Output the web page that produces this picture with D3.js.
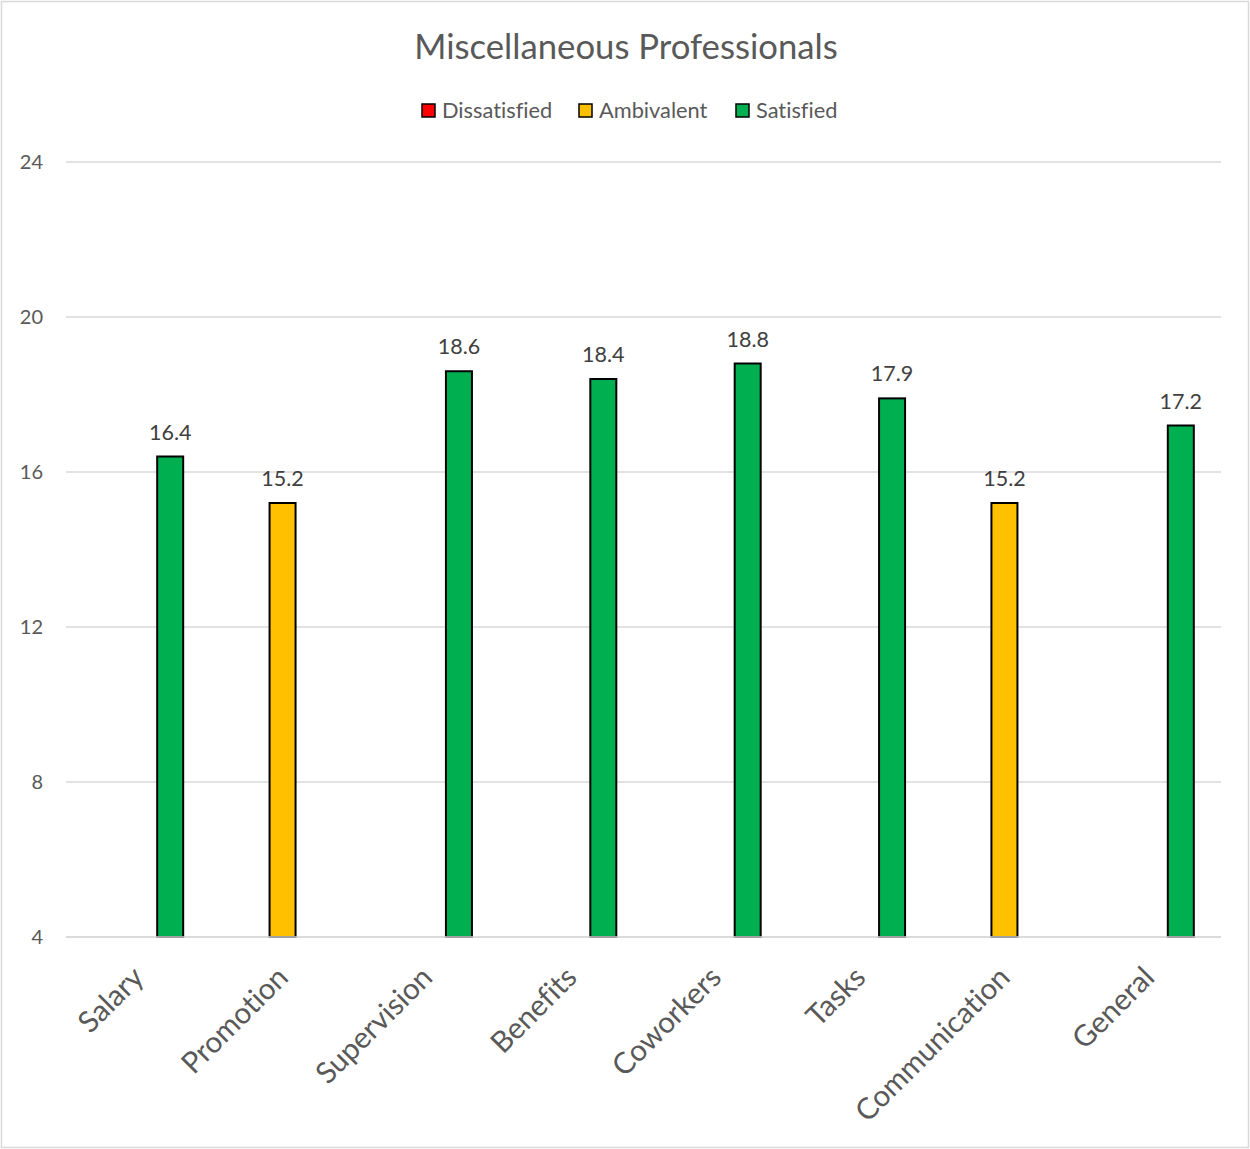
<!DOCTYPE html>
<html>
<head>
<meta charset="utf-8">
<script src="https://cdn.jsdelivr.net/npm/d3@7"></script>
<style>
  html, body { margin: 0; padding: 0; background: #fff; }
  svg { display: block; font-family: Lato, "Open Sans", sans-serif; font-variant-ligatures: none; }
</style>
</head>
<body>
<svg id="chart" width="1250" height="1149"></svg>
<script>
// Job satisfaction scores by facet
const categories = ["Salary", "Promotion", "Supervision", "Benefits", "Coworkers", "Tasks", "Communication", "General"];
const seriesNames = ["Dissatisfied", "Ambivalent", "Satisfied"];
const seriesColors = ["#ff0000", "#ffc000", "#00b050"];
const dissatisfied = [null, null, null, null, null, null, null, null];
const ambivalent   = [null, 15.2, null, null, null, null, 15.2, null];
const satisfied    = [16.4, null, 18.6, 18.4, 18.8, 17.9, null, 17.2];
const yTicks = [4, 8, 12, 16, 20, 24];
const title = "Miscellaneous Professionals";

const seriesValues = [dissatisfied, ambivalent, satisfied];

const svg = d3.select("#chart");
const W = 1250, H = 1149;
const margin = { left: 66, right: 29, top: 162, bottom: 212 };
const plotW = W - margin.left - margin.right;
const plotH = H - margin.top - margin.bottom;

// chart border
svg.append("rect")
  .attr("x", 1.5).attr("y", 1.5)
  .attr("width", W - 3).attr("height", H - 3)
  .attr("fill", "#fff").attr("stroke", "#d9d9d9").attr("stroke-width", 1.5);

const g = svg.append("g").attr("transform", `translate(${margin.left},${margin.top})`);

const x0 = d3.scaleBand().domain(categories).range([0, plotW]).padding(0);
const clusterW = 96;
const x1 = d3.scaleBand().domain(seriesNames).range([-clusterW / 2, clusterW / 2])
  .paddingInner(0.1875).paddingOuter(0.09375);
const y = d3.scaleLinear().domain([4, 24]).range([plotH, 0]);

// gridlines
g.append("g").selectAll("line").data(yTicks).join("line")
  .attr("x1", 0).attr("x2", plotW)
  .attr("y1", d => y(d)).attr("y2", d => y(d))
  .attr("stroke", "#d9d9d9").attr("stroke-width", 1.5);

// y axis tick labels
const yAxis = d3.axisLeft(y).tickValues(yTicks).tickSize(0).tickPadding(23);
const ya = g.append("g").call(yAxis);
ya.select(".domain").remove();
ya.selectAll("text").attr("fill", "#595959").style("font-size", "20px")
  .style("font-family", "Lato, 'Open Sans', sans-serif");

// bars
const barData = [];
categories.forEach((c, i) => {
  seriesNames.forEach((s, j) => {
    const v = seriesValues[j][i];
    if (v != null) barData.push({ cat: c, series: s, color: seriesColors[j], value: v });
  });
});

const cx = c => x0(c) + x0.bandwidth() / 2;

g.append("g").selectAll("rect").data(barData).join("rect")
  .attr("x", d => cx(d.cat) + x1(d.series))
  .attr("width", x1.bandwidth())
  .attr("y", d => y(d.value))
  .attr("height", d => y(4) - y(d.value))
  .attr("fill", d => d.color)
  .attr("stroke", "#000").attr("stroke-width", 2);

// x axis line
g.append("line").attr("x1", 0).attr("x2", plotW)
  .attr("y1", plotH).attr("y2", plotH)
  .attr("stroke", "#d9d9d9").attr("stroke-width", 1.5);

// data labels
g.append("g").selectAll("text").data(barData).join("text")
  .attr("x", d => cx(d.cat) + x1(d.series) + x1.bandwidth() / 2)
  .attr("y", d => y(d.value) - 17)
  .attr("text-anchor", "middle")
  .attr("fill", "#404040").style("font-size", "21.5px")
  .text(d => d.value.toFixed(1));

// category labels, rotated
g.append("g").selectAll("text").data(categories).join("text")
  .attr("transform", d => `translate(${cx(d)},${plotH + 35}) rotate(-45)`)
  .attr("text-anchor", "end")
  .attr("dy", "0.35em")
  .attr("fill", "#595959").style("font-size", "29.5px")
  .text(d => d);

// title
svg.append("text")
  .attr("x", 626).attr("y", 59)
  .attr("text-anchor", "middle")
  .attr("fill", "#595959").style("font-size", "34.7px")
  .text(title);

// legend
const legendX = [422, 579, 736];
const legend = svg.append("g").selectAll("g").data(seriesNames).join("g")
  .attr("transform", (d, i) => `translate(${legendX[i]},104)`);
legend.append("rect")
  .attr("width", 13).attr("height", 13)
  .attr("fill", (d, i) => seriesColors[i])
  .attr("stroke", "#000").attr("stroke-width", 1.5);
legend.append("text")
  .attr("x", 20).attr("y", 14)
  .attr("fill", "#595959").style("font-size", "21.8px")
  .text(d => d);
</script>
</body>
</html>
